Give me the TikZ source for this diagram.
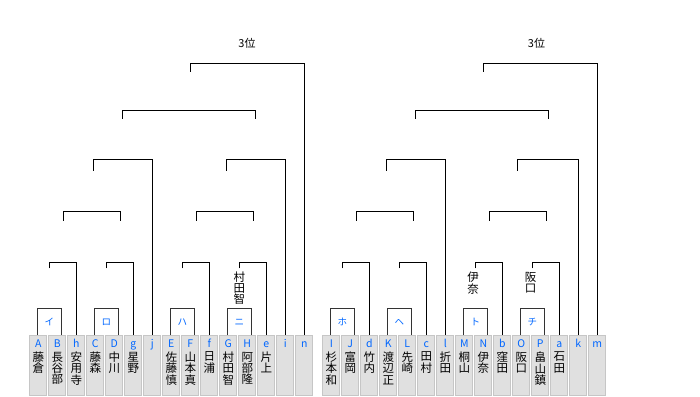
\documentclass[tikz,border=0pt]{standalone}
\usepackage{fontspec}
\newfontfamily\cjk{Noto Sans CJK JP}
\usetikzlibrary{calc}
\definecolor{lblue}{RGB}{0,102,255}
\definecolor{cellfill}{RGB}{224,224,224}
\definecolor{cellline}{RGB}{198,198,198}
\begin{document}
\begin{tikzpicture}[x=1pt,y=-1pt,
  cellbox/.style={draw=cellline, fill=cellfill, line width=1pt, minimum width=17pt, minimum height=60pt, inner sep=0pt},
  lett/.style={text=lblue, font=\cjk\fontsize{10.5}{10.5}\selectfont, anchor=base, inner sep=0pt},
  pname/.style={font=\cjk\fontsize{11.5}{11.3}\selectfont, align=center, anchor=north, inner sep=0pt},
  pairbox/.style={minimum width=24pt, minimum height=26pt, inner sep=0pt, text=lblue, font=\cjk\fontsize{9.5}{10}\selectfont},
  boxline/.style={draw=black!80, line width=1pt},
  br/.style={draw=black, line width=1.1pt},
  rank/.style={font=\cjk\fontsize{11}{11}\selectfont, inner sep=0pt},
]
\useasboundingbox (0,0) rectangle (700,396);

% cells, left half
\foreach \n/\t [count=\i from 0] in {A/藤\\倉, B/長\\谷\\部, h/安\\用\\寺, C/藤\\森, D/中\\川, g/星\\野, j/, E/佐\\藤\\慎, F/山\\本\\真, f/日\\浦, G/村\\田\\智, H/阿\\部\\隆, e/片\\上, i/, n/}{
  \node[cellbox] (c\n) at ({38.3+19*\i},365) {};
  \node[lett] (l\n) at ($(c\n.north)+(0,12.7)$) {\n};
  \node[pname] (t\n) at ($(c\n.north)+(0,17.3)$) {\t};
}
% cells, right half
\foreach \n/\t [count=\i from 0] in {I/杉\\本\\和, J/富\\岡, d/竹\\内, K/渡\\辺\\正, L/先\\崎, c/田\\村, l/折\\田, M/桐\\山, N/伊\\奈, b/窪\\田, O/阪\\口, P/畠\\山\\鎮, a/石\\田, k/, m/}{
  \node[cellbox] (c\n) at ({331.3+19*\i},365) {};
  \node[lett] (l\n) at ($(c\n.north)+(0,12.7)$) {\n};
  \node[pname] (t\n) at ($(c\n.north)+(0,17.3)$) {\t};
}

% first-round pair boxes
\node[pairbox] (bxI)   at (49.3,322)  {イ};
\node[pairbox] (bxRo)  at (106.3,322) {ロ};
\node[pairbox] (bxHa)  at (182.3,322) {ハ};
\node[pairbox] (bxNi)  at (239.3,322) {ニ};
\node[pairbox] (bxHo)  at (342.3,322) {ホ};
\node[pairbox] (bxHe)  at (399.3,322) {ヘ};
\node[pairbox] (bxTo)  at (475.3,322) {ト};
\node[pairbox] (bxChi) at (532.3,322) {チ};
\foreach \b in {bxI,bxRo,bxHa,bxNi,bxHo,bxHe,bxTo,bxChi}{
  \draw[boxline] (\b.south west) |- (\b.north) -| (\b.south east);
}

% level 1
\coordinate (s1a) at (49.3,268.3);  \coordinate (k1a) at (49.3,262.3);
\coordinate (s1b) at (106.3,268.3); \coordinate (k1b) at (106.3,262.3);
\coordinate (s1c) at (182.3,268.3); \coordinate (k1c) at (182.3,262.3);
\coordinate (s1d) at (239.3,268.3); \coordinate (k1d) at (239.3,262.3);
\coordinate (s1e) at (342.3,268.3); \coordinate (k1e) at (342.3,262.3);
\coordinate (s1f) at (399.3,268.3); \coordinate (k1f) at (399.3,262.3);
\coordinate (s1g) at (475.3,268.3); \coordinate (k1g) at (475.3,262.3);
\coordinate (s1h) at (532.3,268.3); \coordinate (k1h) at (532.3,262.3);
\draw[br] (s1a) -- (k1a) -| (ch.north);
\draw[br] (s1b) -- (k1b) -| (cg.north);
\draw[br] (s1c) -- (k1c) -| (cf.north);
\draw[br] (s1d) -- (k1d) -| (ce.north);
\draw[br] (s1e) -- (k1e) -| (cd.north);
\draw[br] (s1f) -- (k1f) -| (cc.north);
\draw[br] (s1g) -- (k1g) -| (cb.north);
\draw[br] (s1h) -- (k1h) -| (ca.north);

% level 2
\coordinate (s2aL) at (63.3,220.7);  \coordinate (k2aL) at (63.3,211.3);
\coordinate (s2aR) at (120.3,220.7); \coordinate (k2aR) at (120.3,211.3);
\coordinate (s2bL) at (196.3,220.7); \coordinate (k2bL) at (196.3,211.3);
\coordinate (s2bR) at (253.3,220.7); \coordinate (k2bR) at (253.3,211.3);
\coordinate (s2cL) at (356.3,220.7); \coordinate (k2cL) at (356.3,211.3);
\coordinate (s2cR) at (413.3,220.7); \coordinate (k2cR) at (413.3,211.3);
\coordinate (s2dL) at (489.3,220.7); \coordinate (k2dL) at (489.3,211.3);
\coordinate (s2dR) at (546.3,220.7); \coordinate (k2dR) at (546.3,211.3);
\draw[br] (s2aL) -- (k2aL) -- (k2aR) -- (s2aR);
\draw[br] (s2bL) -- (k2bL) -- (k2bR) -- (s2bR);
\draw[br] (s2cL) -- (k2cL) -- (k2cR) -- (s2cR);
\draw[br] (s2dL) -- (k2dL) -- (k2dR) -- (s2dR);

% level 3
\coordinate (s3a) at (93.3,170.7);  \coordinate (k3a) at (93.3,159.3);
\coordinate (s3b) at (226.3,170.7); \coordinate (k3b) at (226.3,159.3);
\coordinate (s3c) at (386.3,170.7); \coordinate (k3c) at (386.3,159.3);
\coordinate (s3d) at (517.3,170.7); \coordinate (k3d) at (517.3,159.3);
\draw[br] (s3a) -- (k3a) -| (cj.north);
\draw[br] (s3b) -- (k3b) -| (ci.north);
\draw[br] (s3c) -- (k3c) -| (cl.north);
\draw[br] (s3d) -- (k3d) -| (ck.north);

% level 4
\coordinate (s4aL) at (122.3,118.7); \coordinate (k4aL) at (122.3,110.3);
\coordinate (s4aR) at (255.3,118.7); \coordinate (k4aR) at (255.3,110.3);
\coordinate (s4bL) at (415.3,118.7); \coordinate (k4bL) at (415.3,110.3);
\coordinate (s4bR) at (548.3,118.7); \coordinate (k4bR) at (548.3,110.3);
\draw[br] (s4aL) -- (k4aL) -- (k4aR) -- (s4aR);
\draw[br] (s4bL) -- (k4bL) -- (k4bR) -- (s4bR);

% level 5 (3rd place)
\coordinate (s5a) at (190.3,71.7); \coordinate (k5a) at (190.3,63.3);
\coordinate (s5b) at (483.3,71.7); \coordinate (k5b) at (483.3,63.3);
\draw[br] (s5a) -- (k5a) -| (cn.north);
\draw[br] (s5b) -- (k5b) -| (cm.north);

\node[rank] (r3a) at (247,43.3) {3位};
\node[rank] (r3b) at (536.5,43.3) {3位};

% winner labels
\node[pname] (wNi) at (239.3,271.3) {村\\田\\智};
\node[pname] (wTo) at (473,272) {伊\\奈};
\node[pname] (wChi) at (530.5,272) {阪\\口};
\end{tikzpicture}
\end{document}
